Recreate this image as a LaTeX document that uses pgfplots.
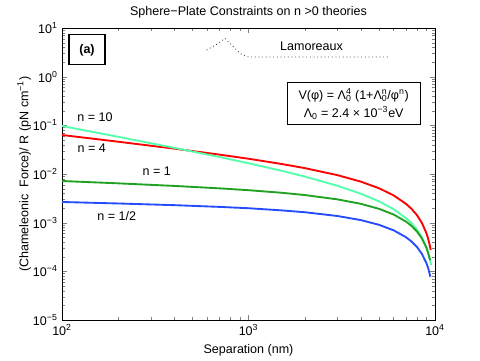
\documentclass[border=0pt]{standalone}
\usepackage{pgfplots}
\pgfplotsset{compat=1.18}
\usepackage{fontspec}
\setmainfont{Liberation Sans}
\usetikzlibrary{calc}

\definecolor{cRed}{rgb}{1,0,0}
\definecolor{cMint}{rgb}{0.33,1,0.67}
\definecolor{cGreen}{rgb}{0.13,0.63,0.13}
\definecolor{cBlue}{rgb}{0.15,0.3,1}

\begin{document}
\fontsize{9.4}{11}\selectfont
\begin{tikzpicture}
\begin{axis}[
    scale only axis,
    width=279.75pt, height=219pt,
    xmode=log, ymode=log,
    xmin=100, xmax=10000, ymin=1e-5, ymax=10,
    xtick={100,1000,10000},
    xticklabels={10\textsuperscript{2},10\textsuperscript{3},10\textsuperscript{4}},
    ytick={1e-5,1e-4,1e-3,1e-2,1e-1,1,10},
    yticklabels={10\textsuperscript{−5},10\textsuperscript{−4},10\textsuperscript{−3},10\textsuperscript{−2},10\textsuperscript{−1},10\textsuperscript{0},10\textsuperscript{1}},
    minor xtick={200,300,400,500,600,700,800,900,2000,3000,4000,5000,6000,7000,8000,9000},
    minor ytick={2e-5,3e-5,4e-5,5e-5,6e-5,7e-5,8e-5,9e-5,
                 2e-4,3e-4,4e-4,5e-4,6e-4,7e-4,8e-4,9e-4,
                 2e-3,3e-3,4e-3,5e-3,6e-3,7e-3,8e-3,9e-3,
                 0.02,0.03,0.04,0.05,0.06,0.07,0.08,0.09,
                 0.2,0.3,0.4,0.5,0.6,0.7,0.8,0.9,
                 2,3,4,5,6,7,8,9},
    tick align=inside,
    major tick length=4pt, minor tick length=2.2pt,
    axis line style={line width=0.6pt},
    title={Sphere−Plate Constraints on n >0 theories},
    title style={yshift=-2pt},
    xlabel={Separation (nm)},
    ylabel={(Chameleonic\ \ Force)/ R (pN cm\textsuperscript{−1})},
    ylabel shift=-5pt,
    every axis plot/.append style={line width=1.4pt},
]

% n = 4
\addplot[cRed] coordinates {
    (100,0.0633) (200,0.0461) (400,0.0332) (700,0.0250) (1000,0.0206)
    (1500,0.0161) (2000,0.01323) (3000,0.00947) (4000,0.00698) (5000,0.00511)
    (6000,0.00364) (7000,0.00243) (7500,0.00191) (8000,0.00143) (8500,9.95e-4)
    (9000,6.05e-4) (9200,4.62e-4) (9400,3.27e-4) (9482,2.75e-4)
};
% n = 10
\addplot[cMint] coordinates {
    (100,0.0969) (200,0.0582) (400,0.0345) (700,0.0223) (1000,0.01664)
    (1500,0.01168) (2000,0.00888) (3000,0.00574) (4000,0.00394) (5000,0.00275)
    (6000,0.00189) (7000,0.00124) (7500,9.65e-4) (8000,7.22e-4) (8500,5.05e-4)
    (9000,3.12e-4) (9200,2.41e-4) (9400,1.73e-4) (9519,1.35e-4)
};
% n = 1
\addplot[cGreen] coordinates {
    (100,0.00718) (200,0.00643) (400,0.00569) (700,0.00507) (1000,0.00465)
    (1500,0.00412) (2000,0.00370) (3000,0.00301) (4000,0.00244) (5000,0.00193)
    (6000,0.00147) (7000,0.00105) (7500,8.51e-4) (8000,6.60e-4) (8500,4.77e-4)
    (9000,3.03e-4) (9200,2.36e-4) (9400,1.71e-4)
};
% n = 1/2
\addplot[cBlue] coordinates {
    (100,0.00266) (200,0.00248) (400,0.00229) (700,0.00211) (1000,0.00198)
    (1500,0.00179) (2000,0.00164) (3000,0.00137) (4000,0.00113) (5000,9.05e-4)
    (6000,6.97e-4) (7000,5.01e-4) (7500,4.08e-4) (8000,3.17e-4) (8500,2.30e-4)
    (9000,1.47e-4) (9200,1.15e-4) (9400,8.33e-5) (9437,7.76e-5)
};
% Lamoreaux bound
\addplot[black, line width=0.55pt, dash pattern=on 0.55pt off 2.2pt] coordinates {
    (597,3.53) (675,4.62) (748,6.14) (796,4.85) (846,3.83) (900,3.02)
    (958,2.66) (999,2.55) (5619,2.55)
};

\node at (rel axis cs:0.669,0.936) {Lamoreaux};
\node[draw, line width=0.8pt, minimum width=27pt, minimum height=22.5pt, font=\bfseries]
    at (rel axis cs:0.067,0.925) {(a)};
\node[draw, line width=0.8pt, minimum width=99.75pt, minimum height=31.5pt,
      align=center, inner sep=2pt]
    at (rel axis cs:0.782,0.740)
    {V(φ) = Λ\rlap{\textsuperscript{4}}\textsubscript{0} (1+Λ\rlap{\textsuperscript{n}}\textsubscript{0}/φ\textsuperscript{n})\\[2.5pt]
     Λ\textsubscript{0} = 2.4 × 10\textsuperscript{−3}eV};
\node at (rel axis cs:0.0885,0.694) {n = 10};
\node at (rel axis cs:0.0796,0.590) {n = 4};
\node at (rel axis cs:0.254,0.511) {n = 1};
\node at (rel axis cs:0.1466,0.356) {n = 1/2};
\end{axis}
\path ($(current axis.south west)+(-46.5pt,-30.75pt)$) rectangle ($(current axis.south west)+(313.5pt,240pt)$);
\end{tikzpicture}
\end{document}
